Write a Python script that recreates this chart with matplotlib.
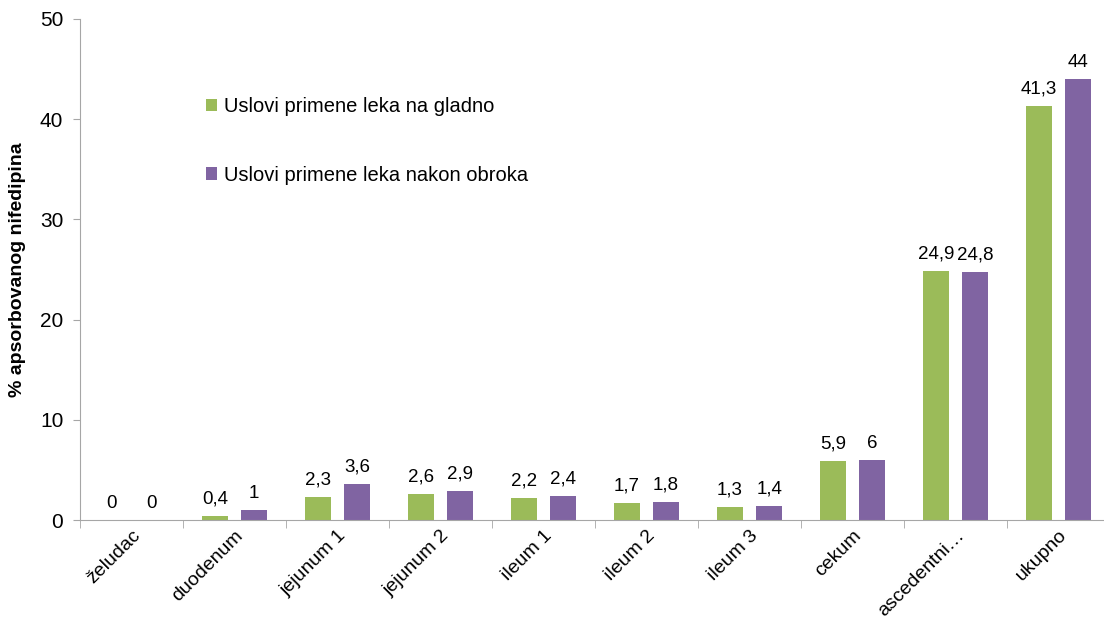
import numpy as np
import matplotlib
matplotlib.use('Agg')
import matplotlib.pyplot as plt

plt.rcParams['font.family'] = ['Liberation Sans', 'DejaVu Sans']

categories = ['želudac', 'duodenum', 'jejunum 1', 'jejunum 2', 'ileum 1',
              'ileum 2', 'ileum 3', 'cekum', 'ascedentni…', 'ukupno']
gladno = [0, 0.4, 2.3, 2.6, 2.2, 1.7, 1.3, 5.9, 24.9, 41.3]
obrok = [0, 1, 3.6, 2.9, 2.4, 1.8, 1.4, 6, 24.8, 44]
series_names = ['Uslovi primene leka na gladno', 'Uslovi primene leka nakon obroka']

green = '#9BBB59'
purple = '#8064A2'
axis_col = '#a6a6a6'

fig = plt.figure(figsize=(11.04, 6.21), dpi=100)
ax = fig.add_axes([80 / 1104, 101 / 621, 1030 / 1104, 501 / 621])

x = np.arange(len(categories))
w = 0.25
b1 = ax.bar(x - 0.19, gladno, w, color=green, label=series_names[0])
b2 = ax.bar(x + 0.19, obrok, w, color=purple, label=series_names[1])

def fmt(v):
    return ('%g' % v).replace('.', ',')

ax.bar_label(b1, labels=[fmt(v) for v in gladno], padding=6, fontsize=13.5)
ax.bar_label(b2, labels=[fmt(v) for v in obrok], padding=6, fontsize=13.5)

ax.set_xlim(-0.5, len(categories) - 0.5)
ax.set_ylim(0, 50)
ax.set_yticks(range(0, 51, 10))
ax.tick_params(axis='y', labelsize=15, length=5, color=axis_col, pad=7)

ax.set_xticks(x)
ax.set_xticklabels(categories, rotation=45, ha='right', rotation_mode='anchor', fontsize=14)
ax.tick_params(axis='x', which='major', length=0, pad=5)
ax.set_xticks(np.arange(-0.5, len(categories) - 0.4, 1), minor=True)
ax.tick_params(axis='x', which='minor', length=6, color=axis_col)

for s in ['top', 'right']:
    ax.spines[s].set_visible(False)
for s in ['left', 'bottom']:
    ax.spines[s].set_color(axis_col)

ax.set_ylabel('% apsorbovanog nifedipina', fontsize=14, fontweight='bold', labelpad=10)

ax.legend(loc='upper left', bbox_to_anchor=(0.105, 0.88), frameon=False,
          fontsize=14.5, handlelength=0.55, handleheight=0.55, handletextpad=0.35,
          labelspacing=2.45)

fig.savefig('out.png', dpi=100)
